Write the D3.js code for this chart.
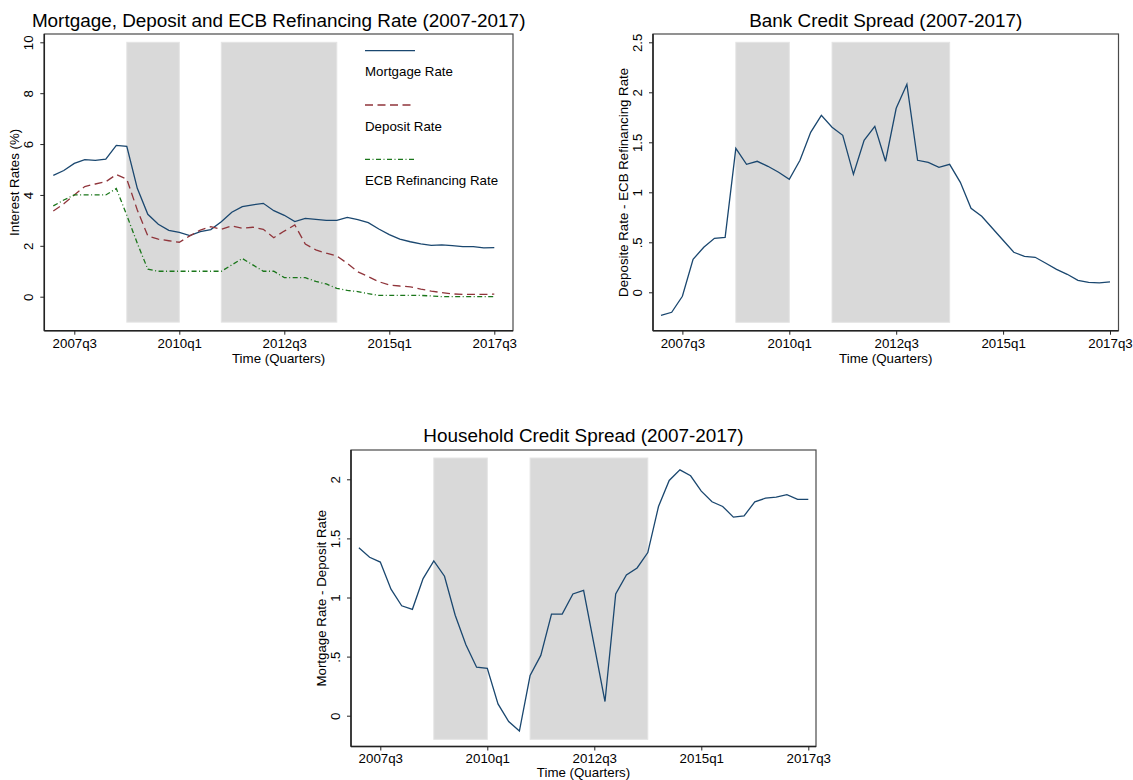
<!DOCTYPE html>
<html>
<head>
<meta charset="utf-8">
<script src="https://cdn.jsdelivr.net/npm/d3@7"></script>
<style>
  body { margin: 0; background: #fff; }
  svg { display: block; font-family: "Liberation Sans", Arial, Helvetica, sans-serif; }
</style>
</head>
<body>
<svg id="chart" width="1133" height="780"></svg>
<script>
// quarters 2007q1 .. 2017q3
const quarters = [
  "2007q1","2007q2","2007q3","2007q4","2008q1","2008q2","2008q3","2008q4",
  "2009q1","2009q2","2009q3","2009q4","2010q1","2010q2","2010q3","2010q4",
  "2011q1","2011q2","2011q3","2011q4","2012q1","2012q2","2012q3","2012q4",
  "2013q1","2013q2","2013q3","2013q4","2014q1","2014q2","2014q3","2014q4",
  "2015q1","2015q2","2015q3","2015q4","2016q1","2016q2","2016q3","2016q4",
  "2017q1","2017q2","2017q3"
];
const xTickLabels = ["2007q3", "2010q1", "2012q3", "2015q1", "2017q3"];
const recessions = [["2008q4", "2010q1"], ["2011q1", "2013q4"]];

const mortgageRate = [4.77, 4.96, 5.24, 5.39, 5.36, 5.41, 5.95, 5.91, 4.26, 3.24, 2.85, 2.61, 2.53, 2.40, 2.56,
  2.64, 2.95, 3.32, 3.54, 3.61, 3.67, 3.38, 3.20, 2.95, 3.08, 3.04, 3.00, 3.00, 3.12, 3.03, 2.91, 2.66, 2.44,
  2.26, 2.16, 2.08, 2.02, 2.04, 2.01, 1.97, 1.97, 1.92, 1.93];
const depositRate = [3.37, 3.65, 4.00, 4.33, 4.43, 4.52, 4.80, 4.62, 3.41, 2.39, 2.26, 2.20, 2.14, 2.39, 2.62,
  2.75, 2.65, 2.78, 2.69, 2.73, 2.65, 2.32, 2.58, 2.82, 2.07, 1.84, 1.71, 1.60, 1.31, 0.98, 0.79, 0.59, 0.46,
  0.42, 0.39, 0.30, 0.22, 0.16, 0.11, 0.09, 0.09, 0.09, 0.10];
const ecbRate = [3.57, 3.80, 4.00, 4.00, 4.00, 4.00, 4.25, 3.20, 2.10, 1.08, 1.00, 1.00, 1.00, 1.00, 1.00,
  1.00, 1.00, 1.25, 1.50, 1.25, 1.00, 1.00, 0.75, 0.75, 0.75, 0.60, 0.50, 0.33, 0.25, 0.20, 0.12, 0.05, 0.05,
  0.05, 0.05, 0.05, 0.03, 0.00, 0.00, 0.00, 0.00, 0.00, 0.00];
const bankSpread = [-0.23, -0.20, -0.04, 0.33, 0.45, 0.54, 0.55, 1.44, 1.28, 1.31, 1.26, 1.20, 1.13, 1.32, 1.60,
  1.77, 1.65, 1.57, 1.18, 1.52, 1.66, 1.31, 1.84, 2.08, 1.32, 1.30, 1.25, 1.28, 1.10, 0.84, 0.76, 0.64, 0.52,
  0.40, 0.36, 0.35, 0.29, 0.23, 0.18, 0.12, 0.10, 0.095, 0.105];
const householdSpread = [1.42, 1.34, 1.30, 1.07, 0.93, 0.90, 1.16, 1.31, 1.18, 0.85, 0.60, 0.41, 0.40, 0.10, -0.05,
  -0.13, 0.34, 0.51, 0.86, 0.86, 1.03, 1.06, 0.59, 0.12, 1.03, 1.19, 1.25, 1.38, 1.77, 1.99, 2.08, 2.03, 1.90,
  1.81, 1.77, 1.68, 1.69, 1.81, 1.84, 1.85, 1.87, 1.83, 1.83];

const svg = d3.select("#chart");
const navy = "#1a476f", maroon = "#90353b", green = "#1a761a";

// Draw one Stata-style panel
function drawPanel(p) {
    const g = svg.append("g");
    const f = p.frame;

    const x = d3.scalePoint().domain(quarters).range(p.xRange);
    const y = d3.scaleLinear().domain(p.yDomain).range(p.yRange);

    // Recession shading
    g.selectAll("rect.shade")
        .data(recessions)
        .enter().append("rect")
        .attr("class", "shade")
        .attr("x", d => x(d[0]))
        .attr("width", d => x(d[1]) - x(d[0]))
        .attr("y", y(p.shade[1]))
        .attr("height", y(p.shade[0]) - y(p.shade[1]))
        .style("fill", "#d9d9d9")
        .style("stroke", "#e4e4e4")
        .style("stroke-width", 1);

    // Frame
    g.append("rect")
        .attr("x", f.l).attr("y", f.t)
        .attr("width", f.r - f.l).attr("height", f.b - f.t)
        .style("fill", "none").style("stroke", "#4a4a4a").style("stroke-width", 1.2);

    // Lines
    const line = d3.line().x((d, i) => x(quarters[i])).y(d => y(d));
    p.series.forEach(s => {
        g.append("path")
            .datum(s.values)
            .attr("d", line)
            .style("fill", "none")
            .style("stroke", s.color)
            .style("stroke-width", 1.3)
            .style("stroke-dasharray", s.dash || null);
    });

    // X axis
    const xAxis = g.append("g")
        .attr("transform", `translate(0,${f.b})`)
        .call(d3.axisBottom(x).tickValues(xTickLabels).tickSize(4));
    xAxis.select(".domain").remove();
    xAxis.selectAll("line").style("stroke", "#222");
    xAxis.selectAll("text")
        .attr("y", p.xLabelY).attr("dy", 0)
        .style("font-size", "13.3px").style("fill", "#000")
        .style("font-family", "'Liberation Sans', Arial, sans-serif");
    g.append("line")
        .attr("x1", f.l).attr("x2", f.r).attr("y1", f.b).attr("y2", f.b)
        .style("stroke", "#222").style("stroke-width", 1.5);

    // Y axis
    const yAxis = g.append("g")
        .attr("transform", `translate(${f.l},0)`)
        .call(d3.axisLeft(y).tickValues(p.yTicks).tickFormat(p.yFormat).tickSize(4));
    yAxis.select(".domain").remove();
    yAxis.selectAll("line").style("stroke", "#222");
    yAxis.selectAll("text")
        .attr("transform", "rotate(-90)")
        .attr("x", 0).attr("y", -11).attr("dy", 0)
        .attr("text-anchor", "middle")
        .style("font-size", "13.3px").style("fill", "#000")
        .style("font-family", "'Liberation Sans', Arial, sans-serif");
    g.append("line")
        .attr("x1", f.l).attr("x2", f.l).attr("y1", f.t).attr("y2", f.b)
        .style("stroke", "#222").style("stroke-width", 1.5);

    // Titles
    const cx = (f.l + f.r) / 2, cy = (f.t + f.b) / 2;
    g.append("text")
        .attr("x", cx).attr("y", p.titleY)
        .attr("text-anchor", "middle")
        .style("font-size", "18.9px")
        .text(p.title);
    g.append("text")
        .attr("x", cx).attr("y", f.b + p.xTitleOffset)
        .attr("text-anchor", "middle")
        .style("font-size", "13.3px")
        .text("Time (Quarters)");
    g.append("text")
        .attr("transform", `translate(${f.l - 25},${cy}) rotate(-90)`)
        .attr("text-anchor", "middle")
        .style("font-size", "13.3px")
        .text(p.yTitle);

    // Legend (inside plot region)
    if (p.legend) {
        p.series.forEach((s, i) => {
            const ly = p.legend.y + i * 54.3;
            g.append("line")
                .attr("x1", p.legend.x).attr("x2", p.legend.x + 50)
                .attr("y1", ly).attr("y2", ly)
                .style("stroke", s.color).style("stroke-width", 1.3)
                .style("stroke-dasharray", s.dash || null);
            g.append("text")
                .attr("x", p.legend.x).attr("y", ly + 25.5)
                .style("font-size", "13.3px")
                .text(s.name);
        });
    }
}

const fmtSpread = d => d === 0 ? "0" : d3.format("")(d).replace(/^0\./, ".");

drawPanel({
    frame: {l: 44.3, r: 513, t: 34, b: 330.7},
    xRange: [53.3, 494.3],
    yDomain: [0, 10], yRange: [296.7, 42.3],
    yTicks: [0, 2, 4, 6, 8, 10], yFormat: d3.format("d"),
    shade: [-1, 10],
    title: "Mortgage, Deposit and ECB Refinancing Rate (2007-2017)",
    titleY: 26.5,
    yTitle: "Interest Rates (%)",
    xLabelY: 17, xTitleOffset: 32,
    series: [
        {name: "Mortgage Rate", values: mortgageRate, color: navy},
        {name: "Deposit Rate", values: depositRate, color: maroon, dash: "8,4.5"},
        {name: "ECB Refinancing Rate", values: ecbRate, color: green, dash: "5,2.5,1,2.5"}
    ],
    legend: {x: 365, y: 50.7}
});

drawPanel({
    frame: {l: 653, r: 1118.5, t: 34, b: 330.7},
    xRange: [661, 1110],
    yDomain: [0, 2.5], yRange: [292.3, 42.3],
    yTicks: [0, 0.5, 1, 1.5, 2, 2.5], yFormat: fmtSpread,
    shade: [-0.3, 2.5],
    title: "Bank Credit Spread (2007-2017)",
    titleY: 26.5,
    yTitle: "Deposite Rate - ECB Refinancing Rate",
    xLabelY: 17, xTitleOffset: 32,
    series: [{name: "Bank Credit Spread", values: bankSpread, color: navy}]
});

drawPanel({
    frame: {l: 351, r: 816, t: 450, b: 746.5},
    xRange: [358.9, 808.3],
    yDomain: [0, 2], yRange: [715.7, 479.3],
    yTicks: [0, 0.5, 1, 1.5, 2], yFormat: fmtSpread,
    shade: [-0.2, 2.18],
    title: "Household Credit Spread (2007-2017)",
    titleY: 441.7,
    yTitle: "Mortgage Rate - Deposit Rate",
    xLabelY: 16.5, xTitleOffset: 30.5,
    series: [{name: "Household Credit Spread", values: householdSpread, color: navy}]
});
</script>
</body>
</html>
